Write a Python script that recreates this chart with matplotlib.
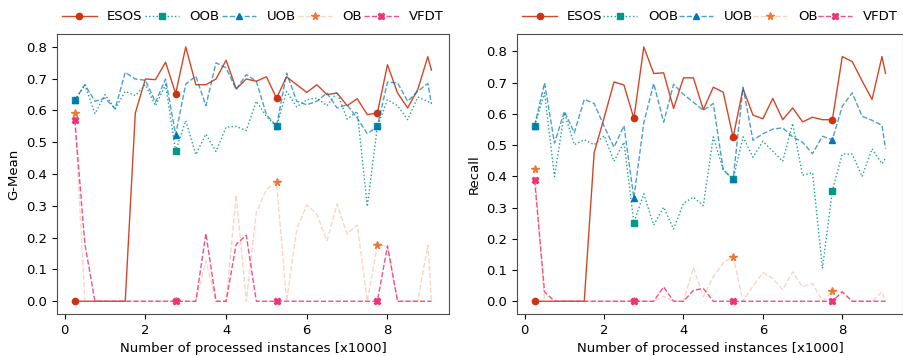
import matplotlib
matplotlib.use('Agg')
import matplotlib.pyplot as plt
from matplotlib.colors import to_rgba

# Eixo x: instancias processadas (x1000)
x = [0.25, 0.5, 0.75, 1.0, 1.25, 1.5, 1.75, 2.0, 2.25, 2.5, 2.75, 3.0, 3.25, 3.5,
     3.75, 4.0, 4.25, 4.5, 4.75, 5.0, 5.25, 5.5, 5.75, 6.0, 6.25, 6.5, 6.75, 7.0,
     7.25, 7.5, 7.75, 8.0, 8.25, 8.5, 8.75, 9.0, 9.09]

# G-Mean
gmean_esos = [0, 0, 0, 0, 0, 0, 0.592, 0.699, 0.697, 0.752, 0.653, 0.80, 0.681, 0.681,
              0.699, 0.758, 0.668, 0.699, 0.692, 0.706, 0.639, 0.706, 0.681, 0.657, 0.681,
              0.650, 0.655, 0.615, 0.637, 0.587, 0.592, 0.744, 0.655, 0.608, 0.666, 0.769, 0.727]
gmean_oob = [0.632, 0.681, 0.590, 0.650, 0.605, 0.660, 0.647, 0.681, 0.615, 0.681, 0.473,
             0.568, 0.461, 0.526, 0.471, 0.548, 0.550, 0.537, 0.629, 0.581, 0.550, 0.660,
             0.611, 0.634, 0.639, 0.615, 0.657, 0.573, 0.597, 0.298, 0.550, 0.634, 0.615,
             0.571, 0.642, 0.629, 0.621]
gmean_uob = [0.632, 0.681, 0.629, 0.639, 0.605, 0.720, 0.699, 0.695, 0.626, 0.699, 0.524,
             0.683, 0.708, 0.615, 0.750, 0.734, 0.666, 0.713, 0.692, 0.587, 0.550, 0.718,
             0.629, 0.618, 0.629, 0.655, 0.608, 0.618, 0.576, 0.527, 0.550, 0.689, 0.687,
             0.629, 0.660, 0.685, 0.621]
gmean_ob = [0.592, 0, 0, 0, 0, 0, 0, 0, 0, 0, 0, 0, 0, 0.127, 0, 0, 0.334, 0, 0.279, 0.352,
            0.375, 0, 0.226, 0.303, 0.274, 0.19, 0.306, 0.211, 0.24, 0, 0.177, 0.174, 0, 0,
            0, 0.177, 0]
gmean_vfdt = [0.569, 0.18, 0, 0, 0, 0, 0, 0, 0, 0, 0, 0, 0, 0.213, 0, 0, 0.179, 0.208, 0,
              0, 0, 0, 0, 0, 0, 0, 0, 0, 0, 0, 0, 0.174, 0, 0, 0, 0, 0]

# Recall
recall_esos = [0, 0, 0, 0, 0, 0, 0.476, 0.587, 0.702, 0.692, 0.585, 0.814, 0.729, 0.731,
               0.617, 0.715, 0.715, 0.613, 0.685, 0.669, 0.525, 0.680, 0.596, 0.584, 0.649,
               0.581, 0.619, 0.574, 0.589, 0.581, 0.581, 0.783, 0.767, 0.705, 0.646, 0.783, 0.729]
recall_oob = [0.562, 0.667, 0.399, 0.603, 0.501, 0.517, 0.501, 0.530, 0.448, 0.509, 0.252,
              0.344, 0.244, 0.301, 0.231, 0.314, 0.333, 0.306, 0.526, 0.421, 0.39, 0.526,
              0.461, 0.512, 0.480, 0.448, 0.569, 0.403, 0.412, 0.105, 0.354, 0.471, 0.471,
              0.399, 0.488, 0.440, 0.458]
recall_uob = [0.562, 0.699, 0.506, 0.608, 0.539, 0.646, 0.633, 0.560, 0.493, 0.562, 0.330,
              0.571, 0.697, 0.573, 0.694, 0.662, 0.637, 0.611, 0.633, 0.421, 0.39, 0.685,
              0.515, 0.536, 0.551, 0.555, 0.526, 0.509, 0.472, 0.528, 0.517, 0.624, 0.667,
              0.592, 0.579, 0.563, 0.488]
recall_ob = [0.423, 0, 0, 0, 0, 0, 0, 0, 0, 0, 0, 0, 0, 0.016, 0, 0, 0.108, 0.014, 0.078,
             0.123, 0.142, 0, 0.048, 0.092, 0.073, 0.037, 0.094, 0.046, 0.057, 0, 0.032,
             0.030, 0, 0, 0, 0.030, 0]
recall_vfdt = [0.387, 0.030, 0, 0, 0, 0, 0, 0, 0, 0, 0, 0, 0, 0.046, 0, 0, 0.035, 0.041, 0,
               0, 0, 0, 0, 0, 0, 0, 0, 0, 0, 0, 0, 0.030, 0, 0, 0, 0, 0]

# nome, cor, estilo, marcador, alpha da linha
estilos = [
    ('ESOS', '#CC3311', '-', 'o', 0.9),
    ('OOB', '#009988', ':', 's', 0.9),
    ('UOB', '#0077BB', '--', '^', 0.7),
    ('OB', '#EE7733', '--', '*', 0.3),
    ('VFDT', '#EE3377', '--', 'X', 0.85),
]

plt.rcParams['font.size'] = 9.5

fig = plt.figure(figsize=(9.04, 3.56), dpi=100)
ax1 = fig.add_axes([0.063, 0.118, 0.434, 0.786])
ax2 = fig.add_axes([0.572, 0.118, 0.427, 0.786])

dados = [
    (ax1, [gmean_esos, gmean_oob, gmean_uob, gmean_ob, gmean_vfdt], 'G-Mean'),
    (ax2, [recall_esos, recall_oob, recall_uob, recall_ob, recall_vfdt], 'Recall'),
]

for ax, series, ylabel in dados:
    for (nome, cor, ls, mk, a), y in zip(estilos, series):
        ms = 5.5 if mk == '*' else 4.5
        ax.plot(x, y, linestyle=ls, linewidth=1, color=to_rgba(cor, a), marker=mk,
                markersize=ms, markerfacecolor=cor, markeredgecolor=cor,
                markevery=10, label=nome)
    ax.set_xlabel('Number of processed instances [x1000]')
    ax.set_ylabel(ylabel)
    ax.set_xticks([0, 2, 4, 6, 8])
    for s in ax.spines.values():
        s.set_color('0.3')
    ax.legend(loc='lower left', bbox_to_anchor=(0, 1.02, 1, 0.1), mode='expand',
              ncol=5, frameon=False, borderaxespad=0, handlelength=2.6)

fig.savefig('out.png', dpi=100)
